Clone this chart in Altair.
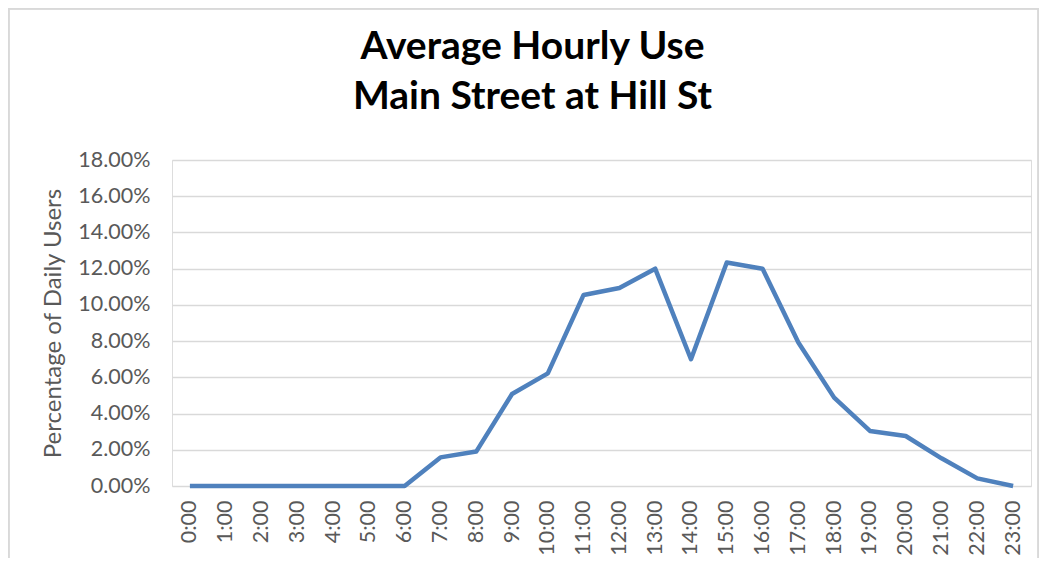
import altair as alt
import pandas as pd

hours = [f"{h}:00" for h in range(24)]
share = [0.0, 0.0, 0.0, 0.0, 0.0, 0.0, 0.0, 0.0158, 0.0190, 0.0508, 0.0622, 0.1055,
         0.1093, 0.1200, 0.0700, 0.1234, 0.1200, 0.0792, 0.0488, 0.0304, 0.0276,
         0.0153, 0.0042, 0.0000]
y_ticks = [i / 100 for i in range(0, 19, 2)]

df = pd.DataFrame({"hour": hours, "share": share})

FONT = "Lato"
GRAY = "#595959"
GRID = "#d9d9d9"

line = alt.Chart(df).mark_line(color="#4f81bd", strokeWidth=4.5, strokeJoin="round").encode(
    x=alt.X("hour:N", sort=hours,
            scale=alt.Scale(type="point", padding=0.5),
            axis=alt.Axis(title=None, labelAngle=-90, labelFontSize=21.5, labelFont=FONT,
                          labelColor=GRAY, labelPadding=14, ticks=False, domain=False,
                          grid=False, labelBaseline="middle", labelAlign="right")),
    y=alt.Y("share:Q", scale=alt.Scale(domain=[0, 0.18], nice=False),
            axis=alt.Axis(title="Percentage of Daily Users", format=".2%", values=y_ticks,
                          labelFontSize=21.5, labelFont=FONT, labelColor=GRAY, labelPadding=22,
                          ticks=False, domain=False, grid=True, gridColor=GRID, gridWidth=1.5,
                          titleFont=FONT, titleFontSize=24, titleFontWeight="normal",
                          titleColor=GRAY, titlePadding=12)),
)

border = alt.Chart(df).mark_rect(fill=None, stroke=GRID, strokeWidth=1.5).encode(
    x=alt.value(-163.5), x2=alt.value(866.5), y=alt.value(-151.5), y2=alt.value(500)
)

chart = alt.layer(border, line).properties(
    width=859,
    height=326,
    title=alt.TitleParams(
        text=["Average Hourly Use", "Main Street at Hill St"],
        font=FONT, fontSize=39, fontWeight="bold", color="#000000",
        anchor="middle", frame="group", dx=-69, offset=0, dy=148, lineHeight=50,
        baseline="bottom",
    ),
    autosize=alt.AutoSizeParams(type="none"),
    padding={"left": 164, "top": 152, "right": 8, "bottom": 72},
).configure_view(stroke=None).configure(background="white")

chart.save("out.html", embed_options={"renderer": "svg", "actions": False})
